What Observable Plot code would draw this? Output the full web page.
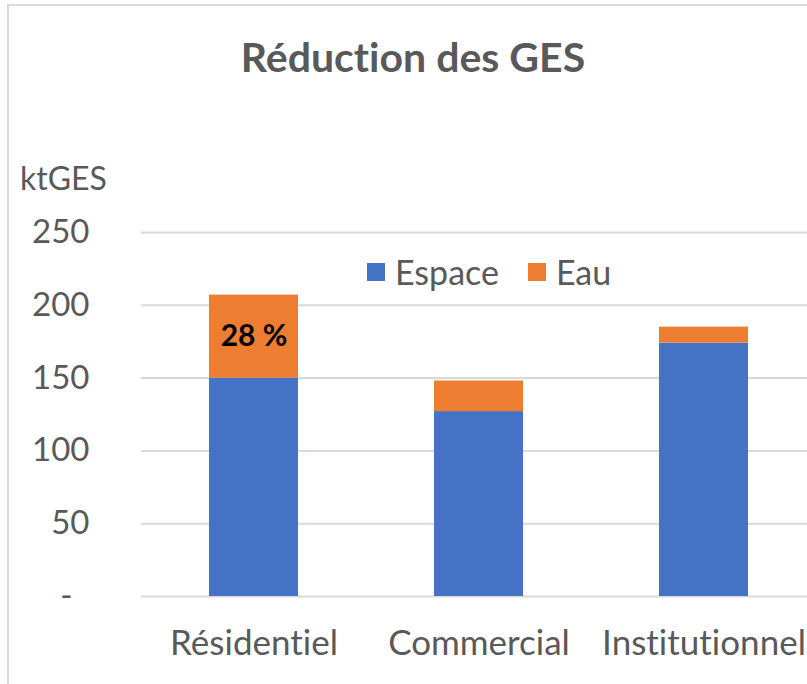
<!DOCTYPE html>
<html>
<head>
<meta charset="utf-8">
<script src="https://cdn.jsdelivr.net/npm/d3@7"></script>
<script src="https://cdn.jsdelivr.net/npm/@observablehq/plot@0.6"></script>
<style>
  html, body { margin: 0; padding: 0; background: #fff; overflow: hidden; }
  #wrap { position: relative; width: 807px; height: 684px; font-family: Lato, "Open Sans", sans-serif; color: #595959; font-variant-ligatures: none; }
  #wrap svg, #wrap svg text { font-variant-ligatures: none; }
  #frame { position: absolute; left: 7px; top: 4px; width: 820px; height: 700px; border-left: 2px solid #D9D9D9; border-top: 2px solid #D9D9D9; box-sizing: border-box; }
  #title { position: absolute; left: 0; width: 826px; top: 33px; text-align: center; font-weight: bold; font-size: 41px; line-height: 48px; }
  #ylabel { position: absolute; left: 20px; top: 160px; font-size: 32px; line-height: 36px; }
  #legend { position: absolute; left: 367px; top: 253px; font-size: 34px; line-height: 38px; display: flex; align-items: center; white-space: nowrap; }
  #legend .sw { display: inline-block; width: 18px; height: 18px; margin-right: 10px; }
  #legend .item { display: flex; align-items: center; margin-right: 29px; }
  #plot { position: absolute; left: 0; top: 0; }
</style>
</head>
<body>
<div id="wrap">
  <div id="plot"></div>
  <div id="frame"></div>
  <div id="title">Réduction des GES</div>
  <div id="ylabel">ktGES</div>
  <div id="legend"></div>
</div>
<script>
const categories = ["Résidentiel", "Commercial", "Institutionnel"];
const series = ["Espace", "Eau"];
const espace = [150, 127, 174];
const eau = [57, 21, 11];
const colors = ["#4472C4", "#ED7D31"];
const yTicks = [0, 50, 100, 150, 200, 250];
const labelIndex = 0;

const rows = [];
categories.forEach((c, i) => {
  rows.push({cat: c, series: "Espace", value: espace[i]});
  rows.push({cat: c, series: "Eau", value: eau[i]});
});
const labels = [{
  cat: categories[labelIndex],
  y: espace[labelIndex] + eau[labelIndex] / 2,
  text: Math.round(eau[labelIndex] / (espace[labelIndex] + eau[labelIndex]) * 100) + " %"
}];

const chart = Plot.plot({
  width: 807,
  height: 684,
  marginTop: 232,
  marginBottom: 88,
  marginLeft: 141,
  marginRight: 0,
  style: {fontFamily: "Lato, 'Open Sans', sans-serif", color: "#595959", background: "transparent", fontVariantLigatures: "none"},
  x: {domain: categories, range: [141, 816], paddingInner: 0.604, paddingOuter: 0.302, label: null},
  y: {domain: [0, 250], label: null},
  color: {domain: series, range: colors},
  marks: [
    Plot.ruleY(yTicks, {stroke: "#D9D9D9", strokeWidth: 2}),
    Plot.barY(rows, {x: "cat", y: "value", fill: "series", order: series}),
    Plot.axisY(yTicks, {
      tickSize: 0, tickPadding: 52, fontSize: 33, fill: "#595959",
      tickFormat: d => d === 0 ? "-\u00a0\u00a0" : String(d)
    }),
    Plot.axisX({tickSize: 0, tickPadding: 34, fontSize: 35, fill: "#595959", label: null}),
    Plot.text(labels, {x: "cat", y: "y", text: "text", fontSize: 30, fontWeight: "bold", fill: "#000"})
  ]
});
document.getElementById("plot").appendChild(chart);

const legend = document.getElementById("legend");
series.forEach((s, i) => {
  const item = document.createElement("span");
  item.className = "item";
  const sw = document.createElement("span");
  sw.className = "sw";
  sw.style.background = colors[i];
  item.appendChild(sw);
  item.appendChild(document.createTextNode(s));
  legend.appendChild(item);
});
</script>
</body>
</html>
